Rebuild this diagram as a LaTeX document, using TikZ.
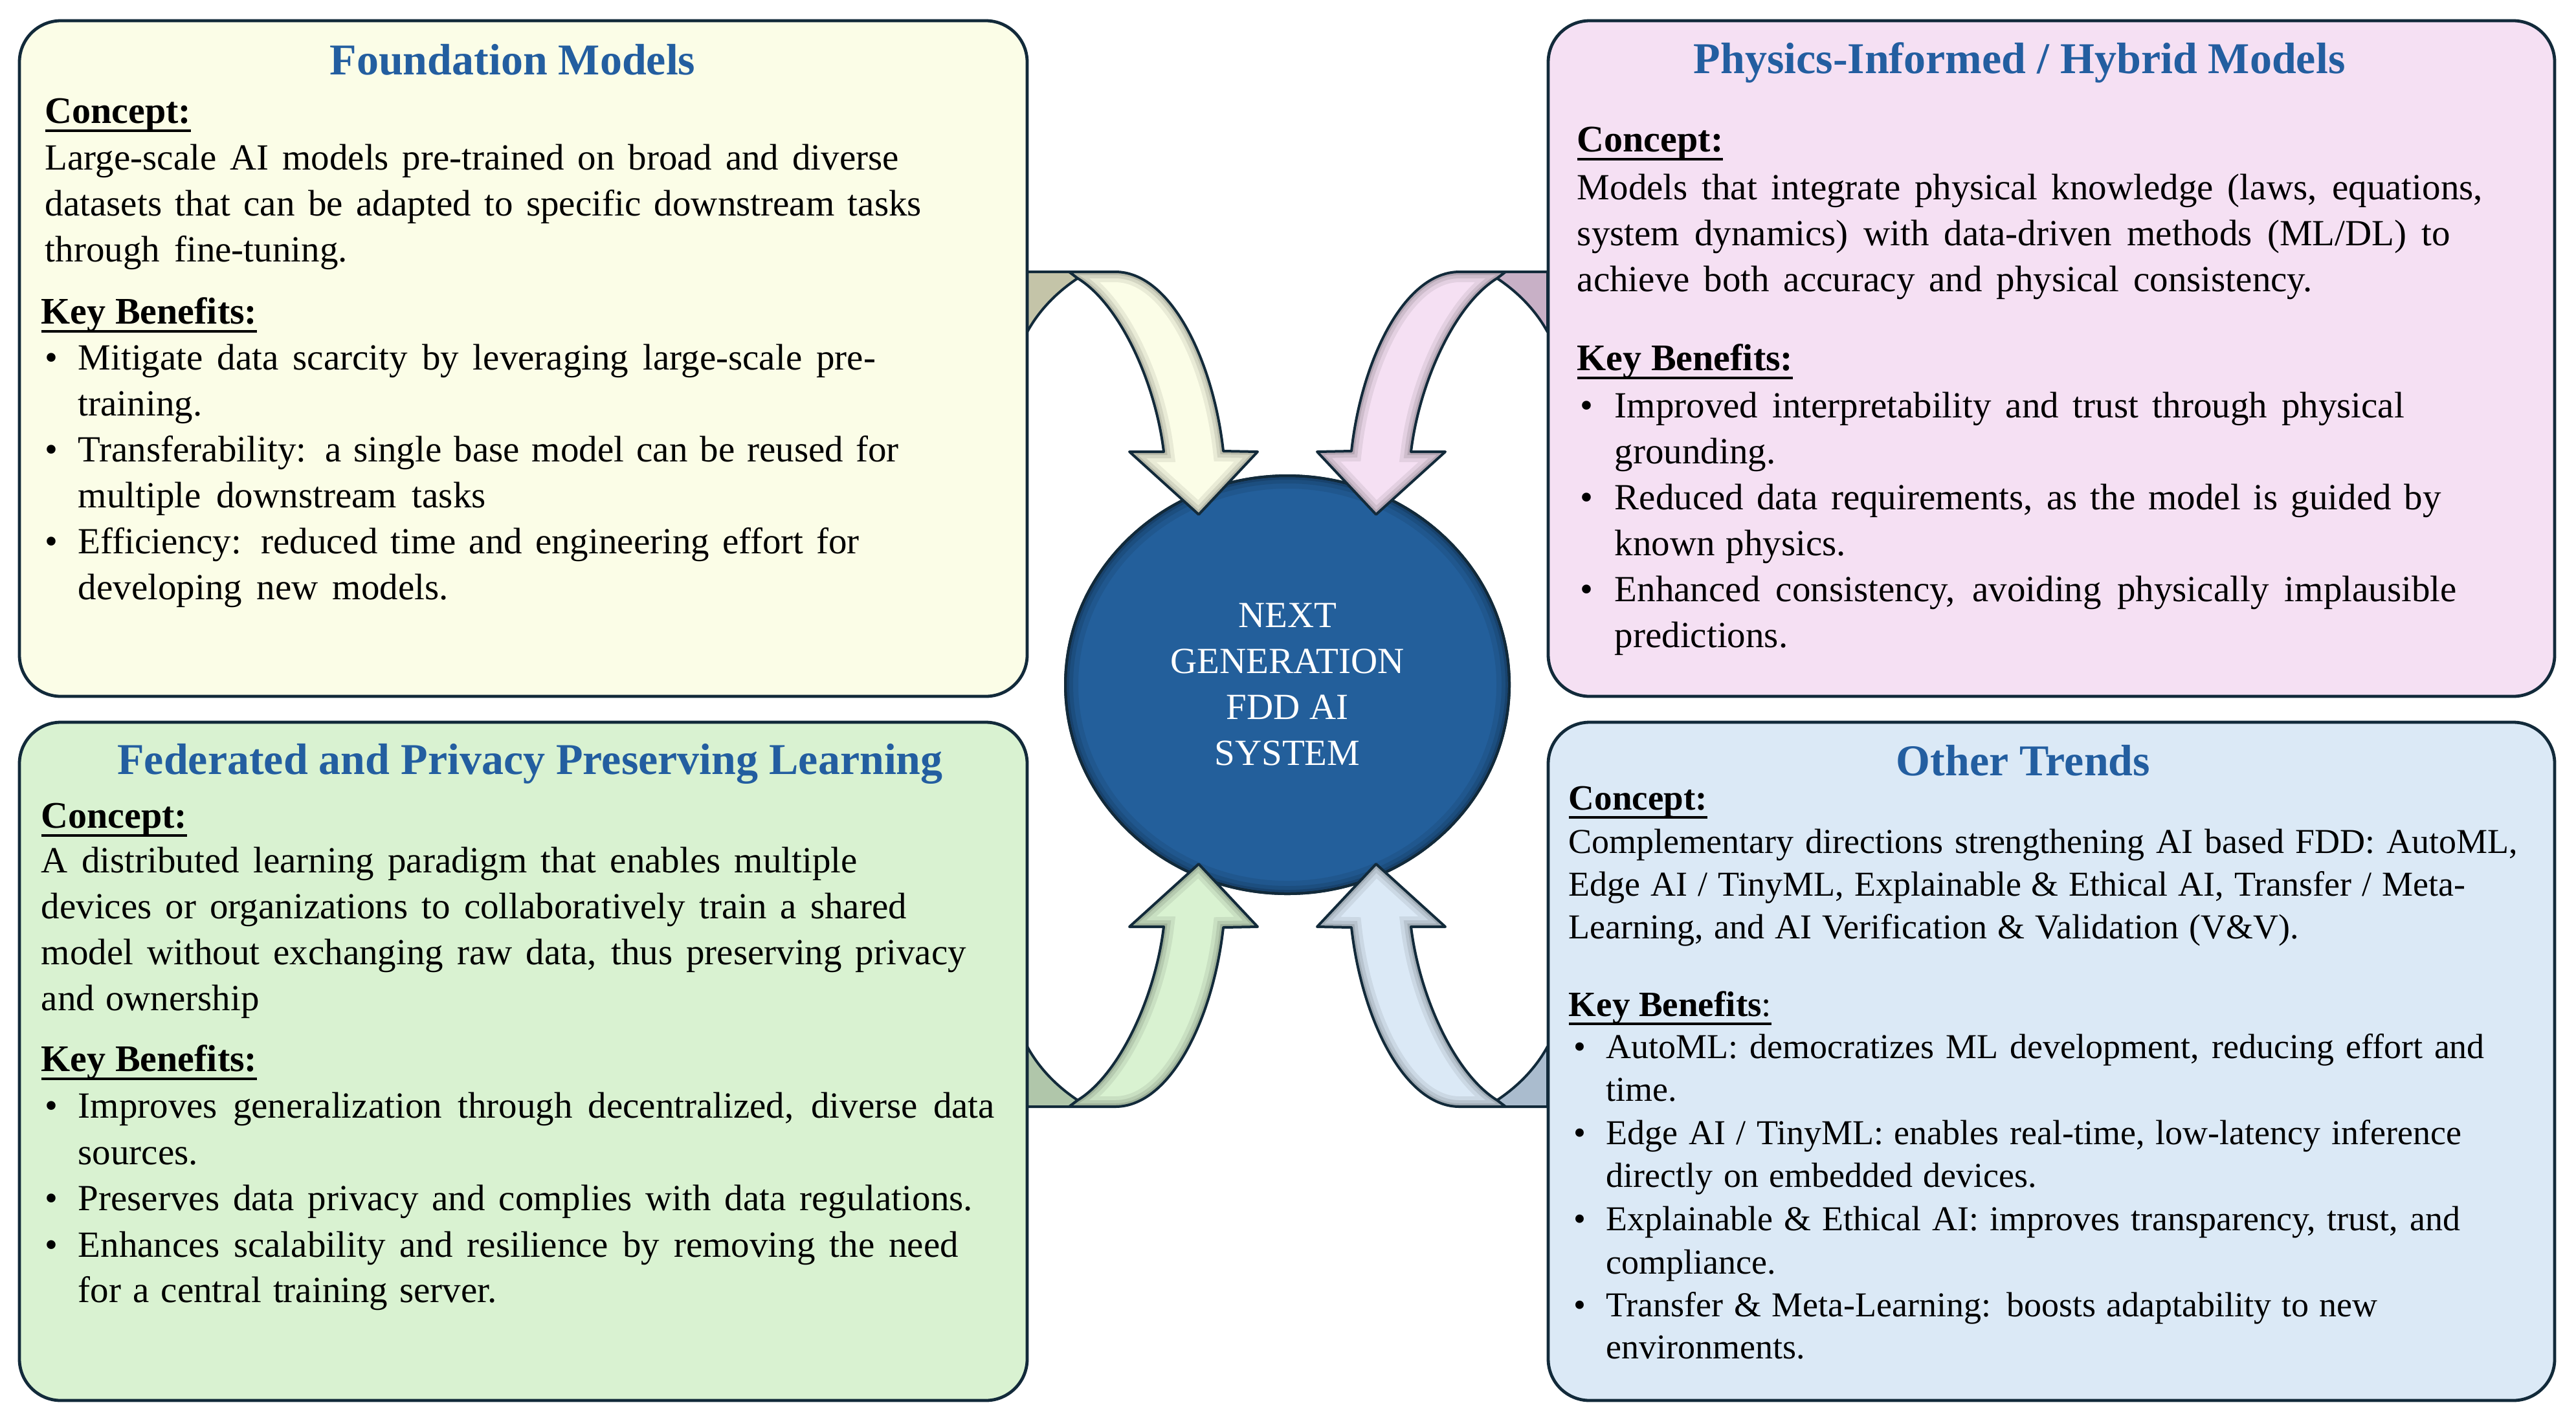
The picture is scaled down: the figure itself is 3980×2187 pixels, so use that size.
\documentclass[tikz,border=0pt]{standalone}
\usepackage{fontspec}
\setmainfont{Liberation Serif}
\usetikzlibrary{shapes.geometric}
\newlength\pxu \setlength\pxu{0.25pt}
\definecolor{navyline}{RGB}{18,42,58}
\definecolor{titleblue}{RGB}{35,94,160}
\definecolor{coreblue}{RGB}{35,95,155}
\definecolor{fmfill}{RGB}{251,253,231}
\definecolor{phfill}{RGB}{245,224,243}
\definecolor{flfill}{RGB}{217,242,209}
\definecolor{otfill}{RGB}{219,233,246}
\definecolor{fmback}{RGB}{196,196,168}
\definecolor{phback}{RGB}{200,176,198}
\definecolor{flback}{RGB}{176,198,170}
\definecolor{otback}{RGB}{170,188,206}
\newcommand\ulx[1]{\setbox0=\hbox{#1}\rlap{\rule[-14\pxu]{\wd0}{4\pxu}}\box0}
\newcommand\TL[6][txt]{\node[#1,anchor=base west] (#2) at (#3,#4) {\hbox to #5\pxu{#6}};}
\newcommand\BL[7][txt]{\node[#1,anchor=base west] (#2) at (#3,#5) {\hbox to \dimexpr#4\pxu-#3\pxu\relax{\textbullet\hss}\hbox to #6\pxu{#7}};}
\newcommand\curvedarrow[2]{%
\filldraw[fill=#2,draw=navyline,line width=1pt,line join=round] (1587,420) -- (1652,420) -- (1665,430) .. controls (1632,452) and (1605,480) .. (1587,513) -- cycle;
\begin{scope}
\clip (1652,420) -- (1723,420) .. controls (1810,420) and (1875,560) .. (1890,697) -- (1943,698) -- (1852,795) -- (1745,698) -- (1798,698) .. controls (1785,590) and (1730,470) .. (1665,430) -- cycle;
\fill[#1] (0,0) rectangle (3980,2187);
\foreach \w/\o in {8pt/0.07,5pt/0.09,2.5pt/0.12}{\draw[line width=\w,black,opacity=\o] (1652,420) -- (1723,420) .. controls (1810,420) and (1875,560) .. (1890,697) -- (1943,698) -- (1852,795) -- (1745,698) -- (1798,698) .. controls (1785,590) and (1730,470) .. (1665,430) -- cycle;}
\end{scope}
\draw[navyline,line width=1pt,line join=round] (1652,420) -- (1723,420) .. controls (1810,420) and (1875,560) .. (1890,697) -- (1943,698) -- (1852,795) -- (1745,698) -- (1798,698) .. controls (1785,590) and (1730,470) .. (1665,430) -- cycle;
}
\begin{document}
\begin{tikzpicture}[x=0.25pt,y=-0.25pt,
  panel/.style={draw=navyline,line width=1.2pt,rounded corners=16pt,inner sep=0pt},
  core/.style={ellipse,draw=navyline,line width=1pt,fill=coreblue,minimum width=171.5pt,minimum height=161.5pt,inner sep=0pt,text=white,align=center,font=\fontsize{14.25pt}{17.75pt}\selectfont},
  title/.style={anchor=base,inner sep=0pt,text=titleblue,font=\fontsize{17pt}{20pt}\selectfont\bfseries},
  txt/.style={inner sep=0pt,font=\fontsize{14.25pt}{17.75pt}\selectfont},
  txts/.style={inner sep=0pt,font=\fontsize{13.5pt}{16.5pt}\selectfont},
  head/.style={anchor=base west,inner sep=0pt,font=\fontsize{14.5pt}{17pt}\selectfont\bfseries},
  heads/.style={anchor=base west,inner sep=0pt,font=\fontsize{13.75pt}{16pt}\selectfont\bfseries}]
\useasboundingbox (0,0) rectangle (3980,2187);
\fill[white] (0,0) rectangle (3980,2187);
% centre
\node[core] (core) at (1989,1058) {NEXT\\GENERATION\\FDD AI\\SYSTEM};
\begin{scope}
\clip (core.center) ellipse [x radius=85.75pt, y radius=80.75pt];
\foreach \w/\o in {10pt/0.08,6pt/0.10,3pt/0.14}{\draw[line width=\w,black,opacity=\o] (core.center) ellipse [x radius=85.75pt, y radius=80.75pt];}
\end{scope}
\draw[navyline,line width=1pt] (core.center) ellipse [x radius=85.75pt, y radius=80.75pt];
% arrows
\curvedarrow{fmfill}{fmback}
\begin{scope}[shift={(3978,0)},xscale=-1]\curvedarrow{phfill}{phback}\end{scope}
\begin{scope}[shift={(0,2130)},yscale=-1]\curvedarrow{flfill}{flback}\end{scope}
\begin{scope}[shift={(3978,2130)},xscale=-1,yscale=-1]\curvedarrow{otfill}{otback}\end{scope}
% panels
\node[panel,fill=fmfill,minimum width=389.25pt,minimum height=261pt] (fmBox) at (808.5,554) {};
\node[panel,fill=phfill,minimum width=388.75pt,minimum height=261pt] (phBox) at (3169.5,554) {};
\node[panel,fill=flfill,minimum width=389.25pt,minimum height=262pt] (flBox) at (808.5,1640) {};
\node[panel,fill=otfill,minimum width=388.75pt,minimum height=262pt] (otBox) at (3169.5,1640) {};
% Foundation
\node[title] (fmT) at (792,115) {Foundation Models};
\node[head] (fmC) at (69,190) {\ulx{Concept:}};
\TL{fmC1}{69}{262}{1319}{Large-scale AI models pre-trained on broad and diverse}
\TL{fmC2}{69}{333}{1354}{datasets that can be adapted to specific downstream tasks}
\TL{fmC3}{69}{404}{467}{through fine-tuning.}
\node[head] (fmK) at (63,500) {\ulx{Key Benefits:}};
\BL{fmB1}{69}{120}{571}{1232}{Mitigate data scarcity by leveraging large-scale pre-}
\TL{fmB1b}{120}{642}{186}{training.}
\BL{fmB2}{69}{120}{713}{1268}{Transferability: a single base model can be reused for}
\TL{fmB2b}{120}{784}{630}{multiple downstream tasks}
\BL{fmB3}{69}{120}{855}{1207}{Efficiency: reduced time and engineering effort for}
\TL{fmB3b}{120}{926}{572}{developing new models.}
% Physics
\node[title] (phT) at (3120,113) {Physics-Informed / Hybrid Models};
\node[head] (phC) at (2436,234) {\ulx{Concept:}};
\TL{phC1}{2436}{308}{1399}{Models that integrate physical knowledge (laws, equations,}
\TL{phC2}{2436}{379}{1349}{system dynamics) with data-driven methods (ML/DL) to}
\TL{phC3}{2436}{450}{1136}{achieve both accuracy and physical consistency.}
\node[head] (phK) at (2436,572) {\ulx{Key Benefits:}};
\BL{phB1}{2441}{2494}{645}{1220}{Improved interpretability and trust through physical}
\TL{phB1b}{2494}{716}{246}{grounding.}
\BL{phB2}{2441}{2494}{787}{1277}{Reduced data requirements, as the model is guided by}
\TL{phB2b}{2494}{858}{357}{known physics.}
\BL{phB3}{2441}{2494}{929}{1301}{Enhanced consistency, avoiding physically implausible}
\TL{phB3b}{2494}{1000}{263}{predictions.}
% Federated
\node[title] (flT) at (819,1196) {Federated and Privacy Preserving Learning};
\node[head] (flC) at (63,1279) {\ulx{Concept:}};
\TL{flC1}{63}{1348}{1261}{A distributed learning paradigm that enables multiple}
\TL{flC2}{63}{1419}{1337}{devices or organizations to collaboratively train a shared}
\TL{flC3}{63}{1490}{1429}{model without exchanging raw data, thus preserving privacy}
\TL{flC4}{63}{1561}{337}{and ownership}
\node[head] (flK) at (63,1655) {\ulx{Key Benefits:}};
\BL{flB1}{69}{120}{1727}{1416}{Improves generalization through decentralized, diverse data}
\TL{flB1b}{120}{1799}{184}{sources.}
\BL{flB2}{69}{120}{1870}{1382}{Preserves data privacy and complies with data regulations.}
\BL{flB3}{69}{120}{1942}{1360}{Enhances scalability and resilience by removing the need}
\TL{flB3b}{120}{2012}{647}{for a central training server.}
% Other Trends
\node[title] (otT) at (3126,1198) {Other Trends};
\node[heads] (otC) at (2423,1251) {\ulx{Concept:}};
\TL[txts]{otC1}{2423}{1318}{1466}{Complementary directions strengthening AI based FDD: AutoML,}
\TL[txts]{otC2}{2423}{1384}{1385}{Edge AI / TinyML, Explainable \& Ethical AI, Transfer / Meta-}
\TL[txts]{otC3}{2423}{1450}{1128}{Learning, and AI Verification \& Validation (V\&V).}
\node[heads] (otK) at (2423,1570) {\ulx{Key Benefits{\mdseries :}}};
\BL[txts]{otB1}{2431}{2481}{1635}{1357}{AutoML: democratizes ML development, reducing effort and}
\TL[txts]{otB1b}{2481}{1701}{107}{time.}
\BL[txts]{otB2}{2431}{2481}{1768}{1321}{Edge AI / TinyML:  enables real-time, low-latency inference}
\TL[txts]{otB2b}{2481}{1834}{665}{directly on embedded devices.}
\BL[txts]{otB3}{2431}{2481}{1901}{1319}{Explainable \& Ethical AI: improves transparency, trust, and}
\TL[txts]{otB3b}{2481}{1968}{266}{compliance.}
\BL[txts]{otB4}{2431}{2481}{2034}{1192}{Transfer \& Meta-Learning: boosts adaptability to new}
\TL[txts]{otB4b}{2481}{2099}{310}{environments.}
\end{tikzpicture}
\end{document}
